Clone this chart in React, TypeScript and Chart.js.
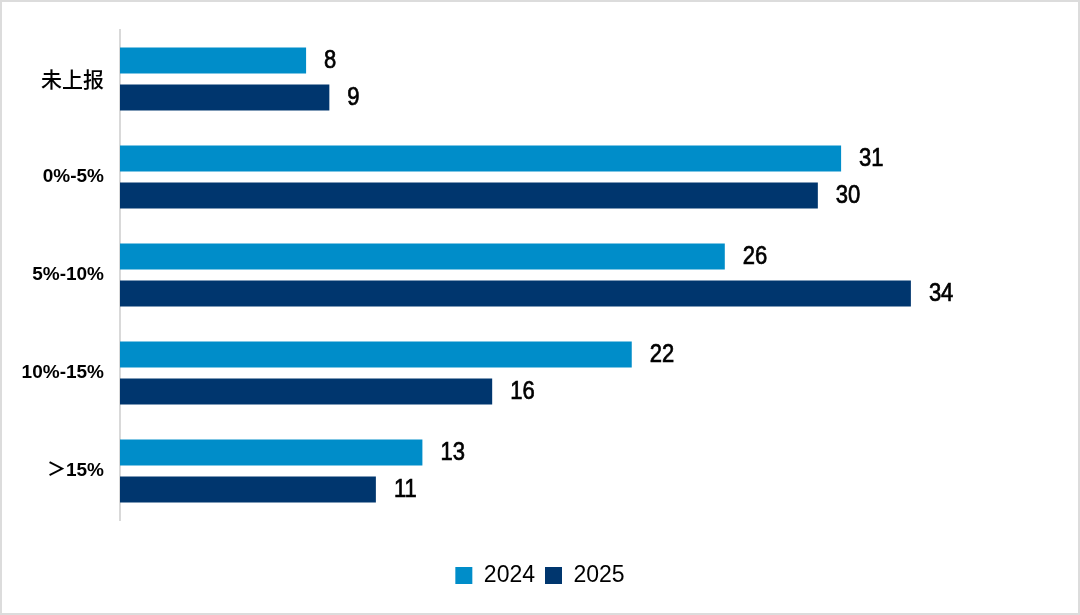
import React, { useEffect, useRef } from "react";
import { Chart, registerables } from "chart.js";

Chart.register(...registerables);

const categories = ["未上报", "0%-5%", "5%-10%", "10%-15%", "＞15%"];
const series2024 = [8, 31, 26, 22, 13];
const series2025 = [9, 30, 34, 16, 11];
const seriesNames = ["2024", "2025"];

const valueLabels = {
  id: "valueLabels",
  afterDatasetsDraw(chart: any) {
    const ctx = chart.ctx;
    chart.data.datasets.forEach((ds: any, i: number) => {
      const meta = chart.getDatasetMeta(i);
      meta.data.forEach((bar: any, j: number) => {
        ctx.save();
        ctx.translate(bar.x + 18, bar.y + 1);
        ctx.scale(0.88, 1);
        ctx.fillStyle = "#000";
        ctx.strokeStyle = "#000";
        ctx.lineWidth = 0.7;
        ctx.font = "25px 'Liberation Sans', Arial, sans-serif";
        ctx.textAlign = "left";
        ctx.textBaseline = "middle";
        const t = String(ds.data[j]);
        ctx.fillText(t, 0, 0);
        ctx.strokeText(t, 0, 0);
        ctx.restore();
      });
    });
  },
};

export default function App() {
  const ref = useRef<HTMLCanvasElement | null>(null);
  useEffect(() => {
    document.body.style.margin = "0";
    const chart = new Chart(ref.current as HTMLCanvasElement, {
      type: "bar",
      data: {
        labels: categories,
        datasets: [
          {
            label: seriesNames[0],
            data: series2024,
            backgroundColor: "#008DC9",
            categoryPercentage: 0.754,
            barPercentage: 0.7,
          },
          {
            label: seriesNames[1],
            data: series2025,
            backgroundColor: "#00366E",
            categoryPercentage: 0.754,
            barPercentage: 0.7,
          },
        ],
      },
      options: {
        indexAxis: "y",
        animation: false,
        responsive: false,
        devicePixelRatio: 1,
        layout: { padding: { top: 30, right: 0, bottom: 18, left: 0 } },
        scales: {
          x: {
            min: 0,
            max: 41.27,
            display: true,
            ticks: { display: false },
            grid: { display: false },
            border: { display: false },
            afterFit: (s: any) => {
              s.height = 34;
            },
          },
          y: {
            grid: { display: false, drawTicks: false },
            border: { display: true, color: "#d9d9d9", width: 2 },
            ticks: {
              color: "#000",
              padding: 16,
              font: (c: any) =>
                c.index === 0
                  ? { family: "'Noto Sans CJK SC', sans-serif", size: 21, weight: "500" }
                  : { family: "'Liberation Sans', 'Noto Sans CJK SC', sans-serif", size: 19, weight: "bold" },
            },
            afterFit: (s: any) => {
              s.width = 120;
            },
          },
        },
        plugins: {
          legend: {
            position: "bottom",
            labels: {
              boxWidth: 17,
              boxHeight: 17,
              padding: 10,
              color: "#000",
              font: { family: "'Liberation Sans', Arial, sans-serif", size: 23 },
            },
          },
          tooltip: { enabled: false },
        },
      },
      plugins: [valueLabels],
    });
    return () => chart.destroy();
  }, []);
  return (
    <div style={{ position: "relative", width: 1080, height: 615, background: "#fff" }}>
      <canvas ref={ref} width={1080} height={615} style={{ display: "block" }} />
      <div
        style={{
          position: "absolute",
          left: 0,
          top: 0,
          width: 1080,
          height: 615,
          boxSizing: "border-box",
          border: "2px solid #dcdcdc",
          pointerEvents: "none",
        }}
      />
    </div>
  );
}
